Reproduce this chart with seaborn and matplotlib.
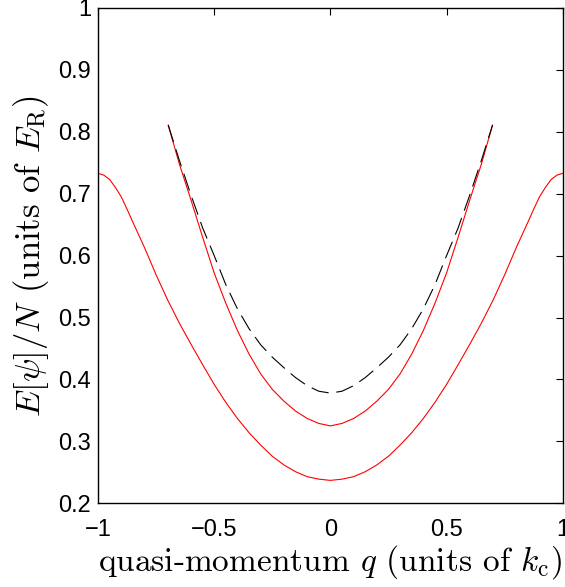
import numpy as np
import seaborn as sns
import matplotlib.pyplot as plt

# quasi-momentum grid
q_lower = [-1.00, -0.975, -0.95, -0.925, -0.90, -0.875, -0.85, -0.80, -0.75, -0.70, -0.65,
           -0.60, -0.55, -0.50, -0.45, -0.40, -0.35, -0.30, -0.25, -0.20, -0.15,
           -0.10, -0.05, 0.00, 0.05, 0.10, 0.15, 0.20, 0.25, 0.30, 0.35,
           0.40, 0.45, 0.50, 0.55, 0.60, 0.65, 0.70, 0.75, 0.80, 0.85,
           0.875, 0.90, 0.925, 0.95, 0.975, 1.00]
e_lower = [0.733, 0.730, 0.723, 0.710, 0.695, 0.675, 0.654, 0.613, 0.569, 0.528, 0.491,
           0.457, 0.424, 0.392, 0.363, 0.337, 0.314, 0.294, 0.276, 0.262, 0.251,
           0.243, 0.239, 0.237, 0.239, 0.243, 0.251, 0.262, 0.276, 0.294, 0.314,
           0.337, 0.363, 0.392, 0.424, 0.457, 0.491, 0.528, 0.569, 0.613, 0.654,
           0.675, 0.695, 0.710, 0.723, 0.730, 0.733]

q_upper = [-0.698, -0.65, -0.60, -0.55, -0.50, -0.45, -0.40, -0.35, -0.30, -0.25, -0.20,
           -0.15, -0.10, -0.05, 0.00, 0.05, 0.10, 0.15, 0.20, 0.25, 0.30,
           0.35, 0.40, 0.45, 0.50, 0.55, 0.60, 0.65, 0.698]
e_upper = [0.811, 0.748, 0.690, 0.630, 0.572, 0.523, 0.479, 0.441, 0.409, 0.384, 0.365,
           0.349, 0.337, 0.329, 0.325, 0.329, 0.337, 0.349, 0.365, 0.384, 0.409,
           0.441, 0.479, 0.523, 0.572, 0.630, 0.690, 0.748, 0.811]
e_dashed = [0.811, 0.754, 0.698, 0.645, 0.600, 0.553, 0.514, 0.482, 0.456, 0.436, 0.419,
            0.403, 0.390, 0.381, 0.378, 0.381, 0.390, 0.403, 0.419, 0.436, 0.456,
            0.482, 0.514, 0.553, 0.600, 0.645, 0.698, 0.754, 0.811]

x_ticks = [-1, -0.5, 0, 0.5, 1]
x_ticklabels = ["\u22121", "\u22120.5", "0", "0.5", "1"]
y_ticks = [0.2, 0.3, 0.4, 0.5, 0.6, 0.7, 0.8, 0.9, 1.0]
y_ticklabels = ["0.2", "0.3", "0.4", "0.5", "0.6", "0.7", "0.8", "0.9", "1"]

sns.set_style("white")
plt.rcParams["font.family"] = ["Liberation Sans", "DejaVu Sans"]
plt.rcParams["mathtext.fontset"] = "cm"

fig = plt.figure(figsize=(5.65, 5.87), dpi=100)
ax = fig.add_axes([0.1735, 0.1426, 0.8225, 0.8438])

sns.lineplot(x=q_lower, y=e_lower, color="red", linewidth=0.8, ax=ax)
sns.lineplot(x=q_upper, y=e_upper, color="red", linewidth=0.8, ax=ax)
sns.lineplot(x=q_upper, y=e_dashed, color="black", linewidth=0.8,
             linestyle=(0, (16, 7)), ax=ax)

ax.set_xlim(-1, 1)
ax.set_ylim(0.2, 1)
ax.set_xticks(x_ticks)
ax.set_xticklabels(x_ticklabels)
ax.set_yticks(y_ticks)
ax.set_yticklabels(y_ticklabels)
ax.tick_params(direction="in", length=5, width=0.8, labelsize=17,
               top=True, right=True, color="black", labelcolor="black")
ax.tick_params(axis="x", pad=11)
ax.tick_params(axis="y", pad=5)
for s in ax.spines.values():
    s.set_visible(True)
    s.set_color("black")
    s.set_linewidth(1.0)

ax.set_xlabel(r"quasi-momentum $q$ (units of $k_{\rm c}$)",
              fontfamily="cmr10", fontsize=24, labelpad=2, color="black")
ax.set_ylabel(r"$E[\psi]/N$ (units of $E_{\rm R}$)",
              fontfamily="cmr10", fontsize=25, labelpad=5, color="black")

fig.savefig("out.png", dpi=100)
